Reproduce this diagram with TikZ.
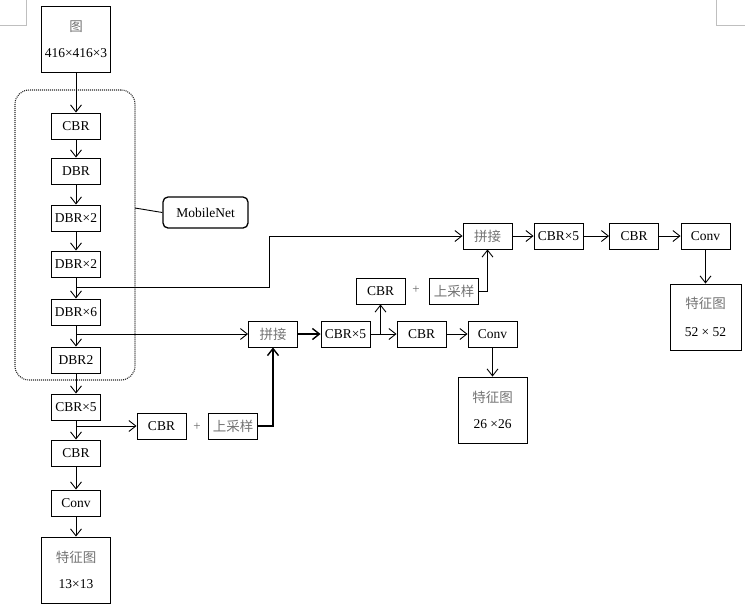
\documentclass[tikz,border=0pt]{standalone}
\usepackage{fontspec}
\setmainfont{Liberation Serif}
\newfontfamily\cjk{Noto Sans CJK SC}
\usetikzlibrary{arrows.meta}
\newcommand{\zhtxt}[1]{{\cjk\textcolor{black!55}{#1}}}

\begin{document}
\begin{tikzpicture}[x=1pt,y=-1pt,
    font=\fontsize{13.5}{15}\selectfont,
    blk/.style={draw,line width=0.9pt,minimum width=49pt,minimum height=26pt,inner sep=0pt},
    big/.style={blk,minimum width=69pt,minimum height=66pt,align=center,font=\fontsize{13.5}{26}\selectfont},
    arr/.style={-{Straight Barb[length=7pt,width=11pt]},line width=0.9pt},
    plus/.style={font=\fontsize{13}{15}\selectfont,text=black!60},
    group/.style={draw=black!85,line width=1.1pt,dash pattern=on 1pt off 1pt,rounded corners=14pt}]
    \useasboundingbox (0,0) rectangle (751,606);
    % page corner marks
    \draw[black!25,line width=0.8pt] (0,25) -- (26,25) -- (26,0);
    \draw[black!25,line width=0.8pt] (716,0) -- (716,25) -- (745,25);

    % backbone
    \node[big] (img) at (76,39) {\zhtxt{图}\\416×416×3};
    \node[group,minimum width=120pt,minimum height=290pt] (mnet) at (75,235) {};
    \node[blk,rounded corners=5pt,line width=1.3pt,minimum width=85pt,minimum height=31pt] (mlab) at (205.5,212.5) {MobileNet};
    \coordinate (mtap) at (135,208);
    \draw[line width=0.9pt] (mtap) -- (mlab.west);

    \node[blk] (cbr1) at (76,126) {CBR};
    \node[blk] (dbr1) at (76,171) {DBR};
    \node[blk] (dbr2) at (76,218) {DBR×2};
    \node[blk] (dbr3) at (76,264) {DBR×2};
    \node[blk] (dbr6) at (76,312) {DBR×6};
    \node[blk] (dbr7) at (76,360) {DBR2};
    \node[blk] (cbr5) at (76,407) {CBR×5};
    \node[blk] (cbr2) at (76,453) {CBR};
    \node[blk] (conv1) at (76,503) {Conv};
    \node[big] (feat1) at (76,570) {\zhtxt{特征图}\\13×13};
    \foreach \a/\b in {img/cbr1,cbr1/dbr1,dbr1/dbr2,dbr2/dbr3,dbr3/dbr6,dbr6/dbr7,dbr7/cbr5,cbr5/cbr2,cbr2/conv1,conv1/feat1}
        \draw[arr] (\a) -- (\b);

    % 26x26 branch
    \node[blk] (cbrA) at (161.5,426) {CBR};
    \node[plus] (plusA) at (197,427) {+};
    \node[blk] (upA) at (233,426) {\zhtxt{上采样}};
    \node[blk] (cat1) at (273,334) {\zhtxt{拼接}};
    \node[blk] (cbr5b) at (345.5,334) {CBR×5};
    \node[blk] (cbrB) at (380.5,291) {CBR};
    \node[plus] (plusB) at (416,290) {+};
    \node[blk] (upB) at (454,291) {\zhtxt{上采样}};
    \node[blk] (cbrC) at (421.5,334) {CBR};
    \node[blk] (conv2) at (492.5,334) {Conv};
    \node[big] (feat2) at (492.5,410) {\zhtxt{特征图}\\26 ×26};

    % 52x52 branch
    \node[blk] (cat2) at (487.5,236) {\zhtxt{拼接}};
    \node[blk] (cbr5c) at (558.5,236) {CBR×5};
    \node[blk] (cbrD) at (634,236) {CBR};
    \node[blk] (conv3) at (705.5,236) {Conv};
    \node[big,minimum width=71pt,font=\fontsize{13.5}{28}\selectfont] (feat3) at (705.5,317) {\zhtxt{特征图}\\52 × 52};

    \coordinate (tap1) at (76,287);
    \coordinate (tap2) at (76,334);
    \coordinate (tap3) at (76,426);
    \coordinate (tap4) at (380.5,334);
    \draw[arr] (tap1) -- ++(193,0) |- (cat2.west);
    \draw[arr] (tap2) -- (cat1.west);
    \draw[arr] (tap3) -- (cbrA.west);
    \draw[arr,line width=1.4pt] (upA.east) -| (cat1.south);
    \draw[arr,line width=1.4pt] (cat1) -- (cbr5b);
    \draw[arr] (cbr5b) -- (cbrC);
    \draw[arr] (tap4) -- (cbrB.south);
    \draw[arr] (cbrC) -- (conv2);
    \draw[arr] (conv2) -- (feat2);
    \draw[arr] (upB.east) -| (cat2.south);
    \foreach \a/\b in {cat2/cbr5c,cbr5c/cbrD,cbrD/conv3,conv3/feat3}
        \draw[arr] (\a) -- (\b);
\end{tikzpicture}
\end{document}
